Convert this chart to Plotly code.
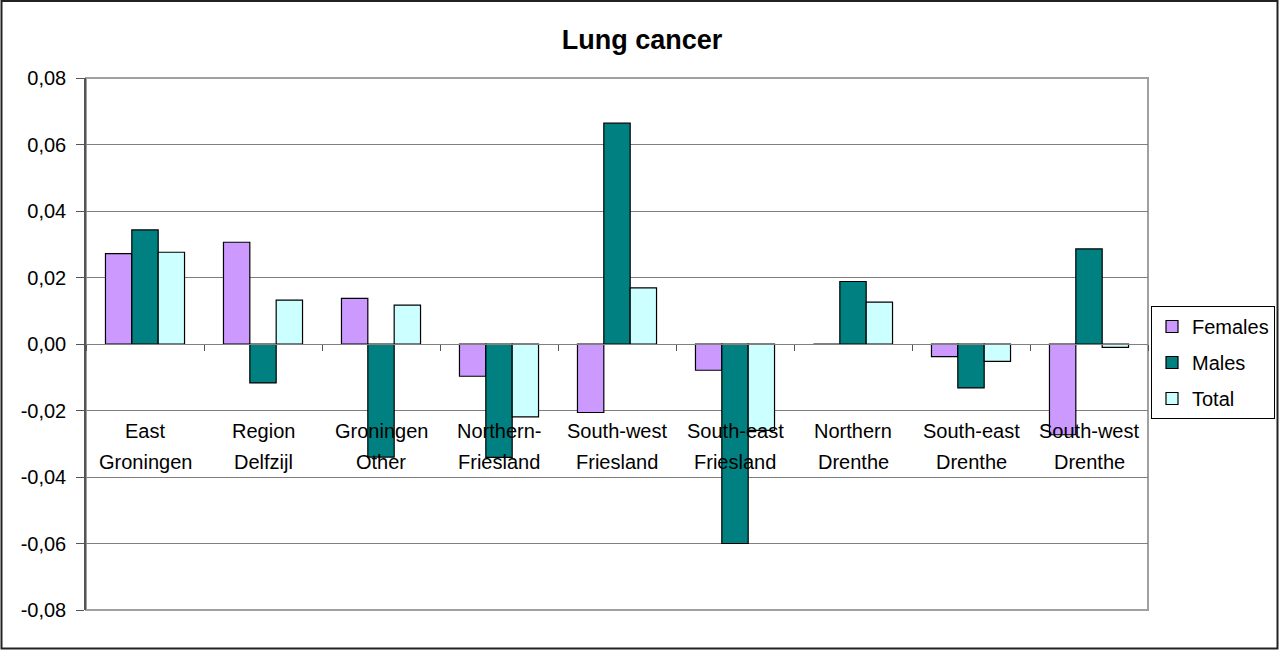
import plotly.graph_objects as go

# Category labels (two lines each) and the values per series
cat_top = ["East", "Region", "Groningen", "Northern-", "South-west",
           "South-east", "Northern", "South-east", "South-west"]
cat_bottom = ["Groningen", "Delfzijl", "Other", "Friesland", "Friesland",
              "Friesland", "Drenthe", "Drenthe", "Drenthe"]
categories = [f"{a} {b}" for a, b in zip(cat_top, cat_bottom)]

females = [0.0272, 0.0306, 0.0137, -0.0097, -0.0206, -0.0079, 0.0, -0.0038, -0.0273]
males = [0.0343, -0.0117, -0.0340, -0.0341, 0.0664, -0.0600, 0.0188, -0.0132, 0.0286]
total = [0.0276, 0.0132, 0.0117, -0.0219, 0.0169, -0.0260, 0.0126, -0.0052, -0.0010]

ytick_vals = [-0.08, -0.06, -0.04, -0.02, 0.0, 0.02, 0.04, 0.06, 0.08]
ytick_text = ["-0,08", "-0,06", "-0,04", "-0,02", "0,00", "0,02", "0,04", "0,06", "0,08"]

W, H = 1279, 650
ML, MR, MT, MB = 86, 131, 78, 40
FONT = "Liberation Sans, Arial, sans-serif"

series = [
    ("Females", females, "#CC99FF"),
    ("Males", males, "#008080"),
    ("Total", total, "#CCFFFF"),
]

fig = go.Figure()
for name, vals, color in series:
    fig.add_trace(go.Bar(
        x=categories, y=vals, name=name, legendgroup=name,
        marker=dict(color=color, line=dict(color="black", width=1.2)),
    ))

# Two-line category labels sitting below the zero axis
annotations = []
for cat, top, bottom in zip(categories, cat_top, cat_bottom):
    annotations.append(dict(x=cat, y=-0.0262, xref="x", yref="y", text=top,
                            showarrow=False, yanchor="middle",
                            font=dict(family=FONT, size=20, color="black")))
    annotations.append(dict(x=cat, y=-0.0356, xref="x", yref="y", text=bottom,
                            showarrow=False, yanchor="middle",
                            font=dict(family=FONT, size=20, color="black")))

pw = W - ML - MR
ph = H - MT - MB
shapes = [
    # plot area frame (right/bottom edges)
    dict(type="rect", xref="paper", yref="paper", x0=0, x1=1, y0=0, y1=1,
         line=dict(color="#A0A0A0", width=2), layer="below"),
    # outer chart border
    dict(type="rect", xref="paper", yref="paper",
         x0=-(ML - 1.5) / pw, x1=(pw + MR - 1.5) / pw,
         y0=-(MB - 1.5) / ph, y1=(ph + MT - 1) / ph,
         line=dict(color="#222222", width=2), layer="below"),
]

fig.update_layout(
    width=W, height=H,
    margin=dict(l=ML, r=MR, t=MT, b=MB, autoexpand=False),
    paper_bgcolor="white", plot_bgcolor="white",
    barmode="group", bargap=0.33, bargroupgap=0,
    separators=",.",
    title=dict(text="<b>Lung cancer</b>", x=642 / W, xanchor="center",
               y=1 - 40 / H, yanchor="middle",
               font=dict(family=FONT, size=27, color="black")),
    font=dict(family=FONT, size=20, color="black"),
    legend=dict(xref="container", yref="container",
                x=1275 / W, xanchor="right",
                y=1 - 306 / H, yanchor="top",
                bordercolor="black", borderwidth=1, bgcolor="white",
                font=dict(family=FONT, size=20, color="black"),
                tracegroupgap=7, itemclick=False),
    annotations=annotations,
    shapes=shapes,
    xaxis=dict(type="category", tickson="boundaries", ticks="outside",
               ticklen=6, tickcolor="#555555", showticklabels=False,
               showgrid=False, showline=True, linecolor="#808080",
               anchor="free", position=0.5, range=[-0.5, 8.5]),
    yaxis=dict(range=[-0.08, 0.08], tickvals=ytick_vals, ticktext=ytick_text,
               ticks="outside", ticklen=8, tickcolor="#555555",
               ticklabelstandoff=6,
               showline=True, linecolor="#555555", linewidth=1.5,
               showgrid=True, gridcolor="#7F7F7F", gridwidth=1,
               zeroline=True, zerolinecolor="#7F7F7F", zerolinewidth=1,
               tickfont=dict(family=FONT, size=20, color="black")),
)

fig.write_html("out.html")
